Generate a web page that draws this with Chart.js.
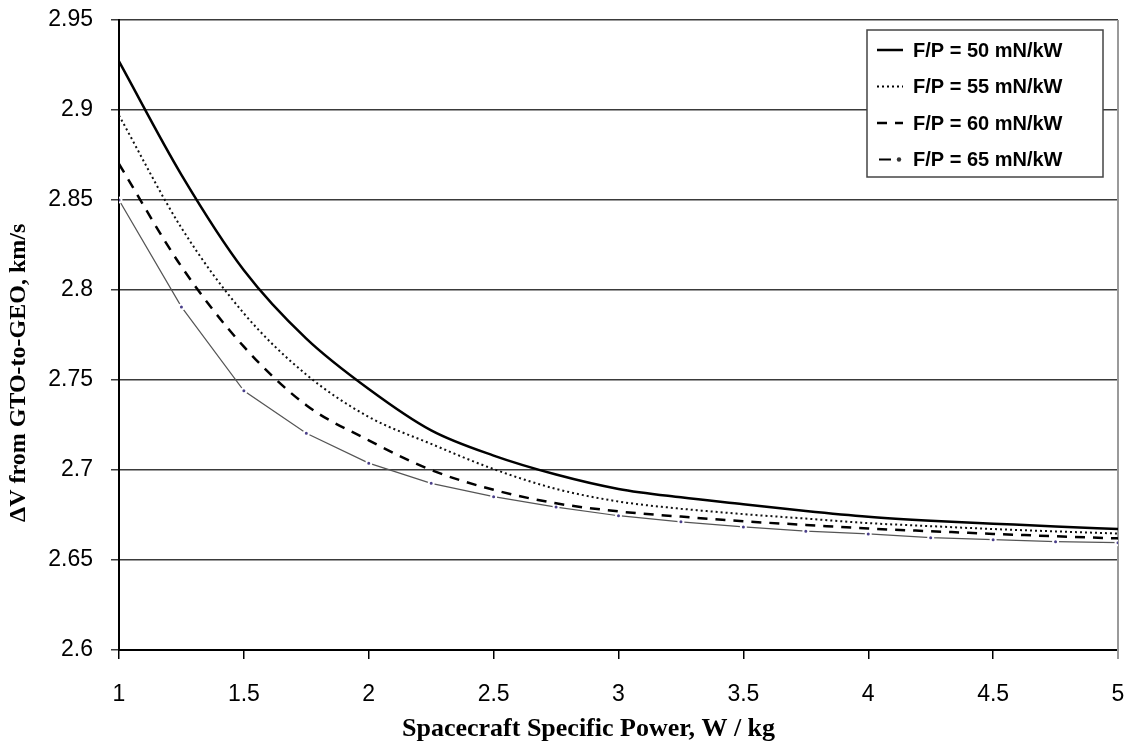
<!DOCTYPE html>
<html>
<head>
<meta charset="utf-8">
<script src="https://cdn.jsdelivr.net/npm/chart.js@4.4.1/dist/chart.umd.min.js"></script>
<style>
  body { margin: 0; background: #fff; }
  #wrap { width: 1130px; height: 750px; }
</style>
</head>
<body>
<div id="wrap"><canvas id="dvChart" width="1130" height="750"></canvas></div>
<script>
// specific power, W/kg
const power = [1, 1.25, 1.5, 1.75, 2, 2.25, 2.5, 2.75, 3, 3.25, 3.5, 3.75, 4, 4.25, 4.5, 4.75, 5];

// delta-V GTO->GEO, km/s, one array per thrust-to-power ratio
const fp50 = [2.927, 2.864, 2.811, 2.773, 2.745, 2.722, 2.708, 2.6975, 2.6895, 2.6848, 2.681, 2.6772, 2.674, 2.6718, 2.6702, 2.6686, 2.6672];
const fp55 = [2.897, 2.8345, 2.787, 2.753, 2.7295, 2.7145, 2.7005, 2.6895, 2.6825, 2.6785, 2.6755, 2.673, 2.6705, 2.6688, 2.6672, 2.6659, 2.6647];
const fp60 = [2.870, 2.813, 2.7685, 2.736, 2.7165, 2.700, 2.689, 2.6815, 2.677, 2.6741, 2.6715, 2.6695, 2.6675, 2.666, 2.6645, 2.6632, 2.662];
const fp65 = [2.85, 2.7906, 2.744, 2.7204, 2.7038, 2.6926, 2.6852, 2.6794, 2.6746, 2.6712, 2.6684, 2.666, 2.6645, 2.6624, 2.6613, 2.6602, 2.6596];

const seriesLabels = ['F/P = 50 mN/kW', 'F/P = 55 mN/kW', 'F/P = 60 mN/kW', 'F/P = 65 mN/kW'];

const xTicks = [1, 1.5, 2, 2.5, 3, 3.5, 4, 4.5, 5];
const xTickLabels = ['1', '1.5', '2', '2.5', '3', '3.5', '4', '4.5', '5'];
const yTicks = [2.6, 2.65, 2.7, 2.75, 2.8, 2.85, 2.9, 2.95];
const yTickLabels = ['2.6', '2.65', '2.7', '2.75', '2.8', '2.85', '2.9', '2.95'];

const xTitle = 'Spacecraft Specific Power, W / kg';
const yTitle = 'ΔV from GTO-to-GEO, km/s';

const tickFont = { family: '"Liberation Sans", Arial, sans-serif', size: 23 };

function points(vals) {
    return power.map((p, i) => ({ x: p, y: vals[i] }));
}

// axis titles (placed like the original, a bit off-centre), right border and legend box
const decorations = {
    id: 'decorations',
    beforeDatasetsDraw(chart) {
        const { ctx, chartArea } = chart;
        ctx.save();
        ctx.strokeStyle = '#9a9a9a';
        ctx.lineWidth = 2;
        ctx.beginPath();
        ctx.moveTo(chartArea.right, chartArea.top);
        ctx.lineTo(chartArea.right, chartArea.bottom + 9);
        ctx.stroke();
        ctx.restore();
    },
    afterDraw(chart) {
        const { ctx, chartArea } = chart;
        ctx.save();
        ctx.fillStyle = '#000';
        ctx.textAlign = 'center';
        ctx.textBaseline = 'middle';
        ctx.font = 'bold 26px "Liberation Serif", "Times New Roman", serif';
        ctx.fillText(xTitle, chartArea.left + 0.47 * chartArea.width, 729);
        ctx.font = 'bold 24px "Liberation Serif", "Times New Roman", serif';
        ctx.translate(19, chartArea.top + 0.56 * chartArea.height);
        ctx.rotate(-Math.PI / 2);
        ctx.fillText(yTitle, 0, 0);
        ctx.restore();

        const w = 236, h = 147;
        const x0 = chartArea.right - 15 - w;
        const y0 = chartArea.top + 10;
        ctx.save();
        ctx.fillStyle = '#fff';
        ctx.fillRect(x0, y0, w, h);
        ctx.strokeStyle = '#444';
        ctx.lineWidth = 1.5;
        ctx.strokeRect(x0, y0, w, h);
        ctx.font = 'bold 20px "Liberation Sans", Arial, sans-serif';
        ctx.textBaseline = 'middle';
        ctx.fillStyle = '#000';
        chart.data.datasets.forEach((ds, i) => {
            const y = y0 + 20 + i * 36.5;
            ctx.strokeStyle = '#000';
            ctx.lineWidth = ds.borderWidth;
            ctx.setLineDash(ds.borderDash || []);
            ctx.beginPath();
            if (i === 3) {
                ctx.setLineDash([]);
                ctx.moveTo(x0 + 12, y);
                ctx.lineTo(x0 + 24, y);
                ctx.lineWidth = 2;
                ctx.stroke();
                ctx.beginPath();
                ctx.fillStyle = '#333';
                ctx.arc(x0 + 32, y, 2.2, 0, Math.PI * 2);
                ctx.fill();
                ctx.fillStyle = '#000';
            } else {
                ctx.moveTo(x0 + 10, y);
                ctx.lineTo(x0 + 36, y);
                ctx.stroke();
            }
            ctx.setLineDash([]);
            ctx.fillText(ds.label, x0 + 46, y + 1);
        });
        ctx.restore();
    }
};

const ctx = document.getElementById('dvChart').getContext('2d');
new Chart(ctx, {
    type: 'line',
    data: {
        datasets: [{
            label: seriesLabels[0],
            data: points(fp50),
            borderColor: '#000',
            borderWidth: 2.5,
            pointRadius: 0,
            cubicInterpolationMode: 'monotone'
        }, {
            label: seriesLabels[1],
            data: points(fp55),
            borderColor: '#111',
            borderWidth: 2,
            borderDash: [2, 3],
            pointRadius: 0,
            cubicInterpolationMode: 'monotone'
        }, {
            label: seriesLabels[2],
            data: points(fp60),
            borderColor: '#000',
            borderWidth: 2.5,
            borderDash: [10, 8],
            pointRadius: 0,
            cubicInterpolationMode: 'monotone'
        }, {
            label: seriesLabels[3],
            data: points(fp65),
            borderColor: '#555',
            borderWidth: 1.2,
            tension: 0,
            pointRadius: 2.5,
            pointBackgroundColor: '#4a3f8a',
            pointBorderColor: '#fff',
            pointBorderWidth: 2
        }]
    },
    options: {
        responsive: false,
        animation: false,
        layout: { padding: { top: 20, right: 12, left: 0, bottom: 0 } },
        scales: {
            x: {
                type: 'linear',
                min: 1,
                max: 5,
                afterBuildTicks: (s) => { s.ticks = xTicks.map(v => ({ value: v })); },
                afterFit: (s) => {
                    s.height = 100;
                    s.paddingLeft = 0;
                    s.paddingRight = 0;
                },
                ticks: {
                    font: tickFont, color: '#000', padding: 22, maxRotation: 0,
                    callback: (v) => xTickLabels[xTicks.indexOf(v)]
                },
                grid: { drawOnChartArea: false, drawTicks: true, tickLength: 9, color: '#000', lineWidth: 1.5 },
                border: { color: '#000', width: 2 }
            },
            y: {
                min: 2.6,
                max: 2.95,
                afterBuildTicks: (s) => { s.ticks = yTicks.map(v => ({ value: v })); },
                afterFit: (s) => {
                    s.width = 119;
                    s.paddingTop = 0;
                    s.paddingBottom = 0;
                },
                ticks: {
                    font: tickFont, color: '#000', padding: 18,
                    callback: (v) => yTickLabels[yTicks.indexOf(v)]
                },
                grid: { color: '#3a3a3a', lineWidth: 1.5, tickLength: 8 },
                border: { color: '#000', width: 2 }
            }
        },
        plugins: {
            legend: { display: false },
            tooltip: { enabled: false }
        }
    },
    plugins: [decorations]
});
</script>
</body>
</html>
